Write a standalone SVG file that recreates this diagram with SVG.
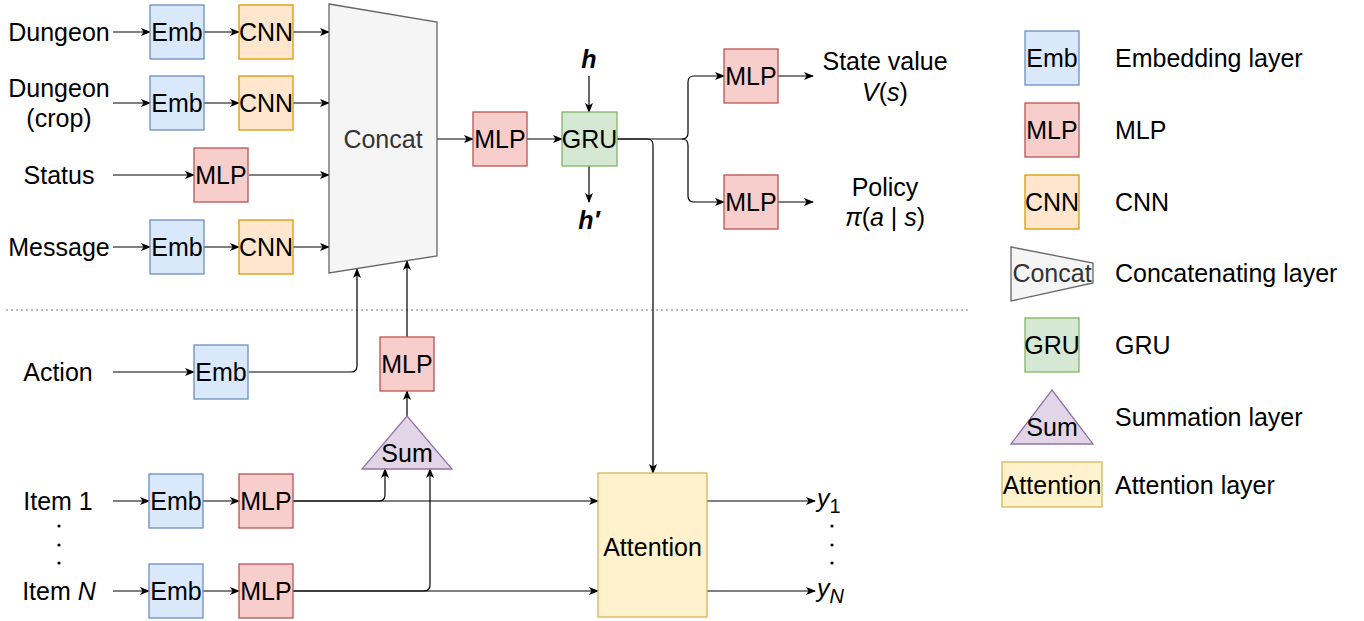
<svg xmlns="http://www.w3.org/2000/svg" width="1364" height="621" viewBox="0 0 1364 621">
  <defs>
    <marker id="arrow" viewBox="0 0 10 8" refX="9" refY="4" markerWidth="10" markerHeight="8" markerUnits="userSpaceOnUse" orient="auto">
      <path d="M0,0 L10,4 L0,8 L2.5,4 z" fill="#000"/>
    </marker>
    <style>
      text { font-family: "Liberation Sans", Arial, sans-serif; font-size: 25px; fill: #000; }
      .c { text-anchor: middle; }
      .emb { fill: #dae8fc; stroke: #6c8ebf; stroke-width: 1.3; }
      .mlp { fill: #f8cecc; stroke: #b85450; stroke-width: 1.3; }
      .cnn { fill: #ffe6cc; stroke: #d79b00; stroke-width: 1.3; }
      .gru { fill: #d5e8d4; stroke: #82b366; stroke-width: 1.3; }
      .sum { fill: #e1d5e7; stroke: #9673a6; stroke-width: 1.3; }
      .att { fill: #fff2cc; stroke: #d6b656; stroke-width: 1.3; }
      .cat { fill: #f5f5f5; stroke: #666666; stroke-width: 1.3; }
      .cattxt { fill: #333333; }
      .edge { fill: none; stroke: #000; stroke-width: 1.2; }
      .arr { marker-end: url(#arrow); }
      .it { font-style: italic; }
      .bi { font-style: italic; font-weight: bold; }
    </style>
  </defs>

  <rect width="1364" height="621" fill="#ffffff"/>

  <!-- input labels -->
  <g id="labels">
    <text class="c" x="59" y="41">Dungeon</text>
    <text class="c" x="59" y="97">Dungeon</text>
    <text class="c" x="59" y="127">(crop)</text>
    <text class="c" x="59" y="184">Status</text>
    <text class="c" x="59" y="256">Message</text>
    <text class="c" x="58" y="381">Action</text>
    <text class="c" x="58" y="510">Item 1</text>
    <text class="c" x="59" y="600">Item <tspan class="it">N</tspan></text>
    <circle cx="59" cy="526" r="1.6" fill="#000"/>
    <circle cx="59" cy="545" r="1.6" fill="#000"/>
    <circle cx="59" cy="563" r="1.6" fill="#000"/>
    <text class="c bi" x="589" y="68">h</text>
    <text class="c bi" x="589" y="229">h′</text>
    <text class="c" x="885" y="70">State value</text>
    <text class="c" x="885" y="101"><tspan class="it">V</tspan>(<tspan class="it">s</tspan>)</text>
    <text class="c" x="885" y="196">Policy</text>
    <text class="c" x="885" y="226"><tspan class="it">π</tspan>(<tspan class="it">a</tspan> | <tspan class="it">s</tspan>)</text>
    <text x="817" y="507"><tspan class="it">y</tspan><tspan font-size="20" dy="6">1</tspan></text>
    <text x="817" y="597"><tspan class="it">y</tspan><tspan class="it" font-size="20" dy="6">N</tspan></text>
    <circle cx="832" cy="526" r="1.6" fill="#000"/>
    <circle cx="832" cy="545" r="1.6" fill="#000"/>
    <circle cx="832" cy="563" r="1.6" fill="#000"/>
  </g>

  <!-- separator between observation and action/item branches -->
  <line x1="6" y1="310" x2="968" y2="310" stroke="#777" stroke-width="1.2" stroke-dasharray="2,3"/>

  <!-- connectors -->
  <g id="connectors">
    <path class="edge arr" d="M113,32 H150"/>
    <path class="edge arr" d="M204,32 H239"/>
    <path class="edge arr" d="M293,32 H329"/>
    <path class="edge arr" d="M113,103 H150"/>
    <path class="edge arr" d="M204,103 H239"/>
    <path class="edge arr" d="M293,103 H329"/>
    <path class="edge arr" d="M113,175 H194"/>
    <path class="edge arr" d="M249,175 H329"/>
    <path class="edge arr" d="M113,247 H150"/>
    <path class="edge arr" d="M204,247 H239"/>
    <path class="edge arr" d="M293,247 H329"/>
    <path class="edge arr" d="M437,139 H473"/>
    <path class="edge arr" d="M527,139 H562"/>
    <path class="edge arr" d="M589,76 V112"/>
    <path class="edge arr" d="M589,166 V202"/>
    <path class="edge arr" d="M617,139 H682 Q688,139 688,133 V82 Q688,76 694,76 H724"/>
    <path class="edge arr" d="M682,139 Q688,139 688,145 V196 Q688,202 694,202 H724"/>
    <path class="edge arr" d="M617,139 H647 Q653,139 653,145 V473"/>
    <path class="edge arr" d="M778,76 H813"/>
    <path class="edge arr" d="M778,202 H813"/>
    <path class="edge arr" d="M113,372 H194"/>
    <path class="edge arr" d="M249,372 H351 Q357,372 357,366 V269"/>
    <path class="edge arr" d="M407,337 V261"/>
    <path class="edge arr" d="M407,416 V391"/>
    <path class="edge arr" d="M113,501 H149"/>
    <path class="edge arr" d="M203,501 H239"/>
    <path class="edge arr" d="M293,501 H379 Q385,501 385,495 V469"/>
    <path class="edge arr" d="M293,501 H598"/>
    <path class="edge arr" d="M113,591 H149"/>
    <path class="edge arr" d="M203,591 H239"/>
    <path class="edge arr" d="M293,591 H424 Q430,591 430,585 V469"/>
    <path class="edge arr" d="M293,591 H598"/>
    <path class="edge arr" d="M707,501 H815"/>
    <path class="edge arr" d="M707,591 H815"/>
  </g>

  <!-- observation encoders -->
  <g id="emb-dungeon"><rect class="emb" x="150" y="5" width="54" height="54"/><text class="c" x="177" y="41">Emb</text></g>
  <g id="cnn-dungeon"><rect class="cnn" x="239" y="5" width="54" height="54"/><text class="c" x="266" y="41">CNN</text></g>
  <g id="emb-crop"><rect class="emb" x="150" y="76" width="54" height="54"/><text class="c" x="177" y="112">Emb</text></g>
  <g id="cnn-crop"><rect class="cnn" x="239" y="76" width="54" height="54"/><text class="c" x="266" y="112">CNN</text></g>
  <g id="mlp-status"><rect class="mlp" x="194" y="148" width="54" height="54"/><text class="c" x="221" y="184">MLP</text></g>
  <g id="emb-message"><rect class="emb" x="150" y="220" width="54" height="54"/><text class="c" x="177" y="256">Emb</text></g>
  <g id="cnn-message"><rect class="cnn" x="239" y="220" width="54" height="54"/><text class="c" x="266" y="256">CNN</text></g>

  <g id="concat"><polygon class="cat" points="329,4 437,22 437,256 329,273"/><text class="c cattxt" x="383" y="148">Concat</text></g>
  <g id="mlp-core"><rect class="mlp" x="473" y="112" width="54" height="54"/><text class="c" x="500" y="148">MLP</text></g>
  <g id="gru"><rect class="gru" x="562" y="112" width="55" height="54"/><text class="c" x="589.5" y="148">GRU</text></g>
  <g id="mlp-value"><rect class="mlp" x="724" y="49" width="54" height="54"/><text class="c" x="751" y="85">MLP</text></g>
  <g id="mlp-policy"><rect class="mlp" x="724" y="175" width="54" height="54"/><text class="c" x="751" y="211">MLP</text></g>

  <!-- action and item branches -->
  <g id="emb-action"><rect class="emb" x="194" y="345" width="54" height="54"/><text class="c" x="221" y="381">Emb</text></g>
  <g id="mlp-sum"><rect class="mlp" x="380" y="337" width="54" height="54"/><text class="c" x="407" y="373">MLP</text></g>
  <g id="sum"><polygon class="sum" points="407,416 452,469 362,469"/><text class="c" x="407" y="462">Sum</text></g>
  <g id="emb-item1"><rect class="emb" x="149" y="474" width="54" height="54"/><text class="c" x="176" y="510">Emb</text></g>
  <g id="mlp-item1"><rect class="mlp" x="239" y="474" width="54" height="54"/><text class="c" x="266" y="510">MLP</text></g>
  <g id="emb-itemN"><rect class="emb" x="149" y="564" width="54" height="54"/><text class="c" x="176" y="600">Emb</text></g>
  <g id="mlp-itemN"><rect class="mlp" x="239" y="564" width="54" height="54"/><text class="c" x="266" y="600">MLP</text></g>
  <g id="attention"><rect class="att" x="598" y="473" width="109" height="144"/><text class="c" x="652.5" y="556">Attention</text></g>

  <!-- legend -->
  <g id="legend-emb"><rect class="emb" x="1025" y="31" width="54" height="54"/><text class="c" x="1052" y="67">Emb</text><text x="1115" y="67">Embedding layer</text></g>
  <g id="legend-mlp"><rect class="mlp" x="1025" y="103" width="54" height="54"/><text class="c" x="1052" y="139">MLP</text><text x="1115" y="139">MLP</text></g>
  <g id="legend-cnn"><rect class="cnn" x="1025" y="175" width="54" height="54"/><text class="c" x="1052" y="211">CNN</text><text x="1115" y="211">CNN</text></g>
  <g id="legend-concat"><polygon class="cat" points="1011,247 1093,263 1093,283 1011,301"/><text class="c cattxt" x="1052" y="282">Concat</text><text x="1115" y="282">Concatenating layer</text></g>
  <g id="legend-gru"><rect class="gru" x="1025" y="318" width="54" height="54"/><text class="c" x="1052" y="354">GRU</text><text x="1115" y="354">GRU</text></g>
  <g id="legend-sum"><polygon class="sum" points="1052,390 1093,444 1011,444"/><text class="c" x="1052" y="436">Sum</text><text x="1115" y="426">Summation layer</text></g>
  <g id="legend-attention"><rect class="att" x="1002" y="462" width="100" height="45"/><text class="c" x="1052" y="494">Attention</text><text x="1115" y="494">Attention layer</text></g>
</svg>
